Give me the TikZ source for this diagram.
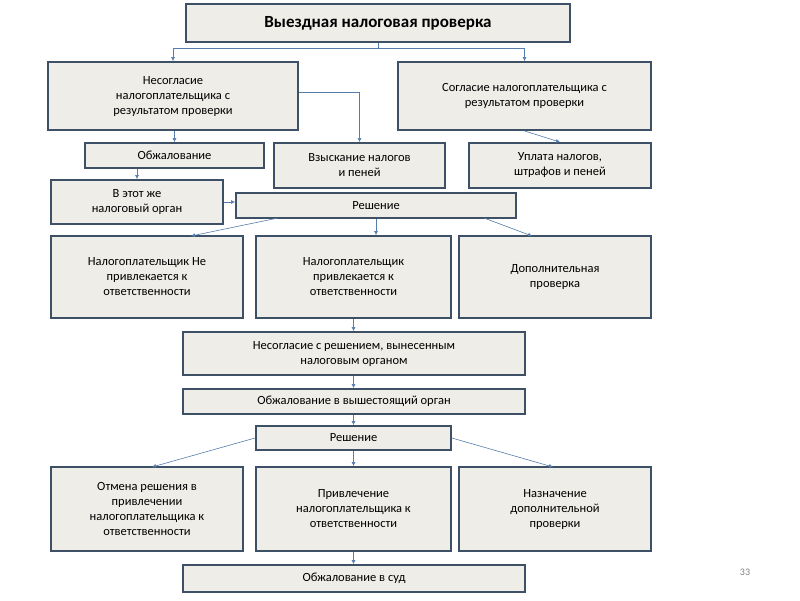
\documentclass[tikz,border=0pt]{standalone}
\usepackage{fontspec}
\setmainfont{Carlito}
\usepackage{tikz}
\definecolor{bx}{RGB}{238, 237, 231}
\definecolor{bd}{RGB}{62, 80, 102}
\definecolor{ar}{RGB}{84, 124, 172}
\usetikzlibrary{positioning}
\usetikzlibrary{arrows.meta}

\begin{document}
\begin{tikzpicture}[x=1pt, y=1pt]
\tikzset{box/.style={rectangle, fill=bx, draw=bd, line width=1.8pt, align=center, font=\fontsize{12.5}{15}\selectfont, inner sep=1pt},
         arr/.style={-{Latex[length=4pt, width=4pt]}, line width=0.6pt, color=ar}}
\useasboundingbox (0,0) rectangle (800,-600);
\node (title) [box, minimum width=384pt, minimum height=38pt, font=\fontsize{17}{20}\selectfont\bfseries] at (378pt, -23pt) {Выездная налоговая проверка};
\node (nes) [box, minimum width=250pt, minimum height=68pt] at (173pt, -96pt) {Несогласие\\налогоплательщика с\\результатом проверки};
\node (sog) [box, minimum width=253pt, minimum height=68pt] at (524.5pt, -96pt) {Согласие налогоплательщика с\\результатом проверки};
\node (obj) [box, minimum width=179pt, minimum height=25pt] at (174.5pt, -155.5pt) {Обжалование};
\node (vzy) [box, minimum width=171pt, minimum height=45pt] at (359.5pt, -165.5pt) {Взыскание налогов\\и пеней};
\node (upl) [box, minimum width=182pt, minimum height=45pt] at (560pt, -165.5pt) {Уплата налогов,\\штрафов и пеней};
\node (vetot) [box, minimum width=172pt, minimum height=44pt] at (137pt, -202pt) {В этот же\\налоговый орган};
\node (resh1) [box, minimum width=280pt, minimum height=25pt] at (376pt, -205.5pt) {Решение};
\node (b1) [box, minimum width=192pt, minimum height=82pt] at (147pt, -277pt) {Налогоплательщик Не\\привлекается к\\ответственности};
\node (b2) [box, minimum width=195pt, minimum height=82pt] at (353.5pt, -277pt) {Налогоплательщик\\привлекается к\\ответственности};
\node (b3) [box, minimum width=192pt, minimum height=82pt] at (555pt, -277pt) {Дополнительная\\проверка};
\node (nesr) [box, minimum width=342pt, minimum height=43pt] at (354pt, -353.5pt) {Несогласие с решением, вынесенным\\налоговым органом};
\node (obv) [box, minimum width=342pt, minimum height=25pt] at (354pt, -401.5pt) {Обжалование в вышестоящий орган};
\node (resh2) [box, minimum width=195pt, minimum height=24pt] at (353.5pt, -438pt) {Решение};
\node (c1) [box, minimum width=192pt, minimum height=84pt] at (147pt, -509pt) {Отмена решения в\\привлечении\\налогоплательщика к\\ответственности};
\node (c2) [box, minimum width=195pt, minimum height=84pt] at (353.5pt, -509pt) {Привлечение\\налогоплательщика к\\ответственности};
\node (c3) [box, minimum width=192pt, minimum height=84pt] at (555pt, -509pt) {Назначение\\дополнительной\\проверки};
\node (sud) [box, minimum width=342pt, minimum height=27pt] at (354pt, -578.5pt) {Обжалование в суд};
\node (page) [text=gray, font=\fontsize{10}{12}\selectfont] at (745pt, -572pt) {33};
\coordinate (split) at (378pt, -48pt);
\draw [line width=0.6pt, color=ar] (title.south) to (split);
\draw [arr] (split) -| (nes.north);
\draw [arr] (split) -| (sog.north);
\draw [arr] (nes.east |- 0,-92pt) -| (vzy.north);
\draw [arr] (nes.south -| obj.north) to (obj.north);
\draw [arr] (sog.south) to (upl.north);
\draw [arr] (obj.south -| vetot.north) to (vetot.north);
\draw [arr] (vetot.east) to (resh1.west |- vetot.east);
\draw [arr] (278pt, -218pt) to (191pt, -236pt);
\draw [arr] (resh1.south) to (resh1.south |- b2.north);
\draw [arr] (484pt, -218pt) to (532pt, -236pt);
\draw [arr] (b2.south) to (nesr.north -| b2.south);
\draw [arr] (nesr.south -| b2.south) to (obv.north -| b2.south);
\draw [arr] (obv.south -| b2.south) to (resh2.north);
\draw [arr] (resh2.west) to (152pt, -467pt);
\draw [arr] (resh2.south) to (c2.north);
\draw [arr] (resh2.east) to (553pt, -467pt);
\draw [arr] (c2.south) to (sud.north -| c2.south);
\end{tikzpicture}
\end{document}
